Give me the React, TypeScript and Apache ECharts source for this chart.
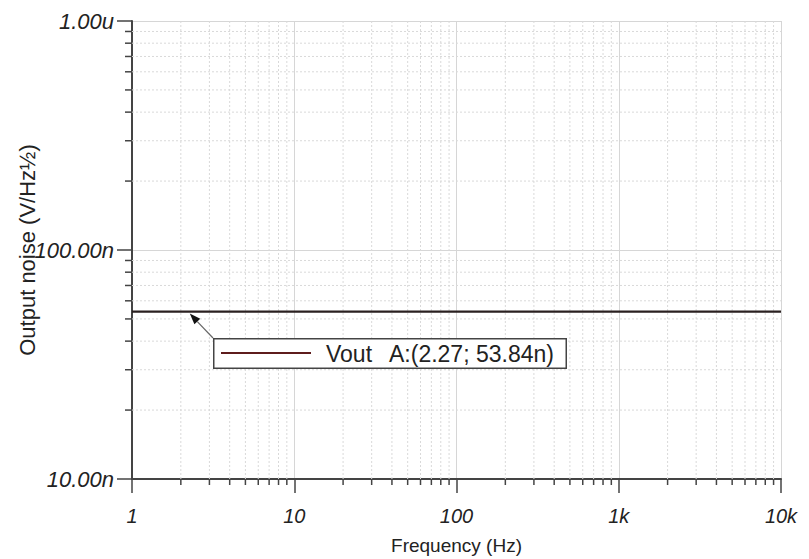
import React, { useEffect, useRef } from "react";
import * as echarts from "echarts";

// ---- data ----
const frequencies = [1, 2.27, 10, 100, 1000, 10000];
const noiseValues = [53.84e-9, 53.84e-9, 53.84e-9, 53.84e-9, 53.84e-9, 53.84e-9];
const xTickValues = [1, 10, 100, 1000, 10000];
const xTickLabels = ["1", "10", "100", "1k", "10k"];
const yTickValues = [1e-8, 1e-7, 1e-6];
const yTickLabels = ["10.00n", "100.00n", "1.00u"];
const minorMultipliers = [2, 3, 4, 5, 6, 7, 8, 9];
const xDecades = [1, 10, 100, 1000];
const yDecades = [1e-8, 1e-7];
const markerPoint = [2.27, 53.84e-9];
const seriesName = "Vout";
const markerLabel = "A:(2.27; 53.84n)";

const X_MIN = 1;
const X_MAX = 10000;
const Y_MIN = 1e-8;
const Y_MAX = 1e-6;

const FONT = "'Liberation Sans', Arial, sans-serif";

const xMinor = xDecades.flatMap((d) => minorMultipliers.map((m) => m * d));
const yMinor = yDecades.flatMap((d) => minorMultipliers.map((m) => m * d));

function lookup(values: number[], labels: string[], v: number) {
  const i = values.findIndex((t) => Math.abs(Math.log10(t) - Math.log10(v)) < 1e-6);
  return i >= 0 ? labels[i] : "";
}

export default function App() {
  const ref = useRef<HTMLDivElement>(null);
  useEffect(() => {
    if (!ref.current) return;
    const chart = echarts.init(ref.current, undefined, { renderer: "svg" });
    const legendX = 213;
    const legendY = 338;
    const LZ = 50;
    chart.setOption({
      animation: false,
      backgroundColor: "#ffffff",
      grid: {
        left: 132,
        right: 28,
        top: 21,
        bottom: 80,
        containLabel: false,
        outerBoundsMode: "none",
      },
      xAxis: {
        type: "log",
        logBase: 10,
        min: X_MIN,
        max: X_MAX,
        name: "Frequency (Hz)",
        nameLocation: "middle",
        nameGap: 57,
        nameMoveOverlap: false,
        nameTextStyle: { fontFamily: FONT, fontSize: 19, color: "#222" },
        axisLine: { show: true, onZero: false, lineStyle: { color: "#444", width: 2 } },
        axisTick: { show: true, length: 14, lineStyle: { color: "#444", width: 1.5 } },
        axisLabel: {
          margin: 27,
          fontFamily: FONT,
          fontSize: 20,
          fontStyle: "italic",
          color: "#222",
          formatter: (v: number) => lookup(xTickValues, xTickLabels, v),
        },
        splitLine: { show: true, lineStyle: { color: "#d6d6d6", width: 1 } },
      },
      yAxis: {
        type: "log",
        logBase: 10,
        min: Y_MIN,
        max: Y_MAX,
        name: "Output noise (V/Hz½)",
        nameLocation: "middle",
        nameGap: 94,
        nameMoveOverlap: false,
        nameTextStyle: { fontFamily: FONT, fontSize: 22, color: "#222" },
        axisLine: { show: true, onZero: false, lineStyle: { color: "#444", width: 2 } },
        axisTick: { show: true, length: 15, lineStyle: { color: "#444", width: 1.5 } },
        axisLabel: {
          margin: 18,
          fontFamily: FONT,
          fontSize: 22,
          fontStyle: "italic",
          color: "#222",
          formatter: (v: number) => lookup(yTickValues, yTickLabels, v),
        },
        splitLine: { show: true, lineStyle: { color: "#d6d6d6", width: 1 } },
      },
      series: [
        {
          type: "custom",
          name: "xMinor",
          clip: false,
          z: 1,
          silent: true,
          encode: { x: 0, y: 1 },
          data: xMinor.map((v) => [v, Y_MIN]),
          renderItem: (_p: any, api: any) => {
            const x = api.value(0);
            const top = api.coord([x, Y_MAX]);
            const bot = api.coord([x, Y_MIN]);
            return {
              type: "group",
              children: [
                {
                  type: "line",
                  shape: { x1: top[0], y1: top[1], x2: bot[0], y2: bot[1] },
                  style: { stroke: "#d9d9d9", lineWidth: 1, lineDash: [2, 2] },
                },
                {
                  type: "rect",
                  shape: { x: bot[0] - 0.75, y: bot[1], width: 1.5, height: 6 },
                  style: { fill: "#444" },
                },
              ],
            };
          },
        },
        {
          type: "custom",
          name: "yMinor",
          clip: false,
          z: 1,
          silent: true,
          encode: { x: 0, y: 1 },
          data: yMinor.map((v) => [X_MIN, v]),
          renderItem: (_p: any, api: any) => {
            const y = api.value(1);
            const l = api.coord([X_MIN, y]);
            const r = api.coord([X_MAX, y]);
            return {
              type: "group",
              children: [
                {
                  type: "line",
                  shape: { x1: l[0], y1: l[1], x2: r[0], y2: r[1] },
                  style: { stroke: "#d9d9d9", lineWidth: 1, lineDash: [2, 2] },
                },
                {
                  type: "rect",
                  shape: { x: l[0] - 7, y: l[1] - 0.75, width: 7, height: 1.5 },
                  style: { fill: "#444" },
                },
              ],
            };
          },
        },
        {
          type: "line",
          name: seriesName,
          z: 3,
          showSymbol: false,
          symbol: "none",
          data: frequencies.map((f, i) => [f, noiseValues[i]]),
          lineStyle: { color: "#2a2020", width: 2.2 },
          itemStyle: { color: "#2a2020" },
        },
        {
          type: "custom",
          name: "marker",
          clip: false,
          z: 5,
          silent: true,
          encode: { x: 0, y: 1 },
          data: [markerPoint],
          renderItem: (_p: any, api: any) => {
            const p = api.coord([api.value(0), api.value(1)]);
            const tx = p[0];
            const ty = p[1] + 2;
            const dx = legendX - tx;
            const dy = legendY - ty;
            const len = Math.sqrt(dx * dx + dy * dy);
            const ux = dx / len;
            const uy = dy / len;
            const hl = 11;
            const hw = 4;
            const bx = tx + ux * hl;
            const by = ty + uy * hl;
            return {
              type: "group",
              children: [
                {
                  type: "line",
                  shape: { x1: bx, y1: by, x2: legendX, y2: legendY },
                  style: { stroke: "#666", lineWidth: 1.2 },
                },
                {
                  type: "polygon",
                  shape: {
                    points: [
                      [tx, ty],
                      [bx - uy * hw, by + ux * hw],
                      [bx + uy * hw, by - ux * hw],
                    ],
                  },
                  style: { fill: "#111" },
                },
              ],
            };
          },
        },
      ],
      graphic: [
        {
          type: "group",
          left: legendX,
          top: legendY,
          z: LZ,
          children: [
            {
              type: "rect",
              z: LZ,
              shape: { x: 0, y: 0, width: 354, height: 31 },
              style: { fill: "#444" },
            },
            {
              type: "rect",
              z: LZ + 1,
              shape: { x: 1.5, y: 1.5, width: 351, height: 28 },
              style: { fill: "#ffffff" },
            },
            {
              type: "rect",
              z: LZ + 2,
              shape: { x: 8, y: 14, width: 90, height: 2 },
              style: { fill: "#5e1c1c" },
            },
            {
              type: "text",
              z: LZ + 2,
              x: 113,
              y: 16,
              style: {
                text: seriesName,
                fontFamily: FONT,
                fontSize: 23,
                fill: "#222",
                verticalAlign: "middle",
              },
            },
            {
              type: "text",
              z: LZ + 2,
              x: 176,
              y: 16,
              style: {
                text: markerLabel,
                fontFamily: FONT,
                fontSize: 23,
                fill: "#222",
                verticalAlign: "middle",
              },
            },
          ],
        },
      ],
    });
    return () => chart.dispose();
  }, []);
  return (
    <div
      ref={ref}
      style={{ position: "fixed", left: 0, top: 0, width: 809, height: 559, background: "#fff" }}
    />
  );
}
